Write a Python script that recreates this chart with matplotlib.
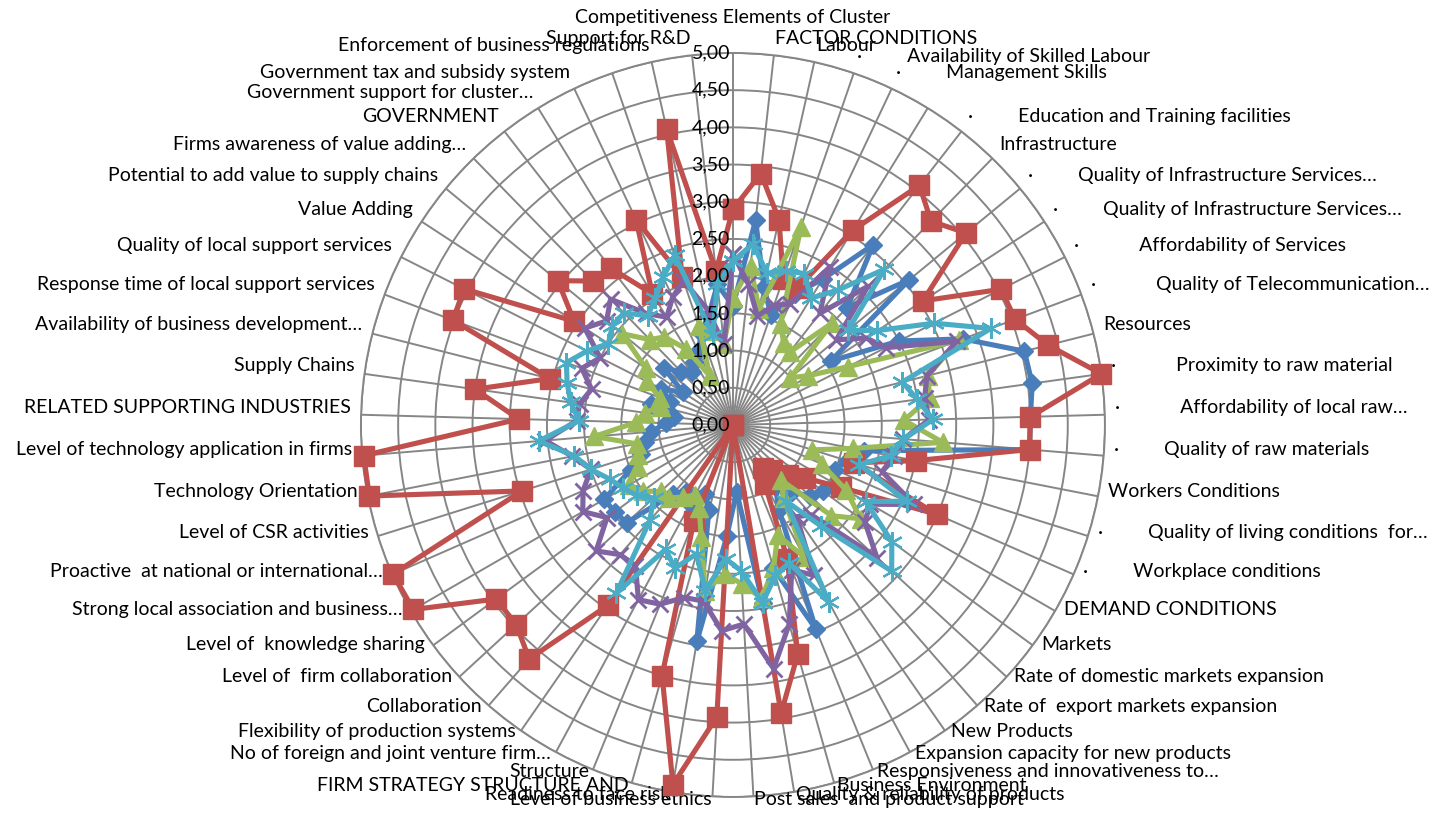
import matplotlib
matplotlib.use("Agg")
import numpy as np
import matplotlib.pyplot as plt
from matplotlib.transforms import offset_copy

plt.rcParams['font.family'] = ['Lato', 'DejaVu Sans']

D = "·" + " " * 9
D2 = "·" + " " * 12
categories = [
    "Competitiveness Elements of Cluster", "FACTOR CONDITIONS", "Labour",
    D + "Availability of Skilled Labour", D + "Management Skills", "",
    D + "Education and Training facilities", "Infrastructure",
    D + "Quality of Infrastructure Services…", D + "Quality of Infrastructure Services…",
    D2 + "Affordability of Services", D2 + "Quality of Telecommunication…", "Resources",
    D2 + "Proximity to raw material", D2 + "Affordability of local raw…",
    D + "Quality of raw materials", "Workers Conditions",
    D + "Quality of living conditions  for…", D + "Workplace conditions",
    "DEMAND CONDITIONS", "Markets", "Rate of domestic markets expansion",
    "Rate of  export markets expansion", "New Products",
    "Expansion capacity for new products", "Responsiveness and innovativeness to…",
    "Business Environment", "Quality & reliability of products",
    "Post sales  and product support", "Level of business ethics",
    "Readiness to face risk", "FIRM STRATEGY STRUCTURE AND", "Structure",
    "No of foreign and joint venture firm…", "Flexibility of production systems",
    "Collaboration", "Level of  firm collaboration", "Level of  knowledge sharing",
    "Strong local association and business…", "Proactive  at national or international…",
    "Level of CSR activities", "Technology Orientation",
    "Level of technology application in firms", "RELATED SUPPORTING INDUSTRIES",
    "Supply Chains", "Availability of business development…",
    "Response time of local support services", "Quality of local support services",
    "Value Adding", "Potential to add value to supply chains",
    "Firms awareness of value adding…", "GOVERNMENT",
    "Government support for cluster…", "Government tax and subsidy system", "",
    "Enforcement of business regulations", "Support for R&D",
]

series_blue = [1.6, 2.77, 1.9, 1.57, 1.95, 2.3, 3.07, 2.2, 3.07, 1.57, 2.5, 3.3, 4.04, 4.06,
               4.0, 4.0, 1.8, 1.6, 1.5, 1.65, 1.5, 1.4, 1.2, 1.0, 1.3, 2.96, 2.0, 2.42, 0.9,
               1.5, 2.95, 1.19, 1.0, 1.2, 1.1, 1.23, 1.94, 1.97, 2.0, 1.5, 1.3, 1.2, 1.1, 0.9,
               0.8, 1.14, 0.9, 1.08, 0.8, 1.2, 1.0, 0.9, 1.0, 1.1, 1.3, 1.5, 1.9]
series_red = [2.9, 3.4, 2.83, 2.08, 2.04, 3.07, 4.08, 3.82, 4.06, 3.05, 4.04, 4.05, 4.37, 5.0,
              4.0, 4.0, 2.5, 1.7, 2.99, 1.68, 1.2, 1.0, 0.8, 0.7, 0.9, 1.94, 3.2, 3.93, 0.0,
              3.93, 4.9, 3.5, 1.4, 0.0, 2.95, 4.17, 3.96, 3.95, 4.96, 4.99, 2.97, 4.98, 4.98,
              2.88, 3.5, 2.54, 4.02, 4.05, 2.55, 3.05, 2.7, 2.67, 2.07, 3.05, 2.1, 4.08, 2.08]
series_green = [1.71, 2.15, 1.6, 2.82, 1.5, 1.3, 1.24, 1.91, 1.0, 1.21, 1.74, 3.24, 2.7, 2.67,
                2.3, 2.83, 1.64, 1.12, 1.3, 1.76, 2.13, 1.8, 0.98, 1.2, 2.02, 1.6, 2.0, 2.36,
                2.14, 2.0, 2.26, 1.57, 1.2, 1.07, 1.18, 1.3, 1.32, 1.5, 1.61, 1.4, 1.34, 1.32,
                1.87, 1.3, 1.2, 1.0, 1.05, 1.3, 1.4, 1.93, 1.6, 1.5, 1.2, 0.73, 1.41, 1.3, 1.1]
series_purple = [2.3, 1.9, 1.5, 1.7, 1.8, 2.5, 1.9, 2.6, 1.8, 2.14, 2.3, 3.21, 2.69, 2.6, 2.64,
                 2.3, 2.2, 2.1, 2.66, 2.13, 2.2, 2.63, 1.6, 1.5, 2.3, 2.1, 2.78, 3.32, 2.68,
                 2.77, 2.4, 2.41, 2.6, 2.67, 2.3, 2.31, 2.5, 2.1, 2.33, 2.2, 2.0, 2.2, 2.53, 2.1,
                 2.08, 1.96, 2.17, 2.0, 2.38, 2.2, 2.36, 1.9, 1.7, 1.9, 2.05, 1.6, 1.09]
series_cyan = [2.2, 2.45, 2.09, 2.19, 2.25, 2.0, 2.3, 2.92, 2.0, 2.32, 3.03, 3.7, 2.35, 2.5,
               2.69, 2.3, 2.16, 1.78, 2.55, 2.06, 2.65, 2.9, 1.8, 1.24, 2.71, 2.0, 2.1, 2.42,
               1.96, 1.8, 2.26, 1.8, 2.08, 1.9, 2.75, 1.7, 1.45, 1.6, 1.7, 1.81, 2.0, 2.17, 2.62,
               2.07, 2.2, 2.3, 2.39, 2.2, 2.0, 2.1, 2.1, 1.86, 2.0, 2.2, 2.41, 1.24, 1.9]

r_ticks = [0.0, 0.5, 1.0, 1.5, 2.0, 2.5, 3.0, 3.5, 4.0, 4.5, 5.0]
r_tick_labels = ["0,00", "0,50", "1,00", "1,50", "2,00", "2,50", "3,00", "3,50", "4,00",
                 "4,50", "5,00"]

N = len(categories)
theta = np.arange(N) * 2 * np.pi / N

fig = plt.figure(figsize=(14.38, 8.15), dpi=100)
ax = fig.add_axes([0.2510, 0.0221, 0.5174, 0.9129], projection='polar')
ax.set_theta_zero_location('N')
ax.set_theta_direction(-1)
ax.set_ylim(0, 5)
ax.set_yticks(r_ticks)
ax.set_yticklabels([])
ax.set_xticks(theta)
ax.set_xticklabels([])
ax.grid(True, color='#868686', lw=1.4)
ax.spines['polar'].set_color('#868686')
ax.spines['polar'].set_linewidth(1.4)
ax.set_facecolor('white')

styles = [
    (series_blue, '#4A7EBB', dict(marker='D', ms=9)),
    (series_red, '#C0504D', dict(marker='s', ms=14)),
    (series_green, '#9BBB59', dict(marker='^', ms=13)),
    (series_purple, '#8064A2', dict(marker='x', ms=11, mew=2)),
    (series_cyan, '#4BACC6', dict(marker=(6, 2, 0), ms=15, mew=1.6)),
]
th_c = np.append(theta, theta[0])
for z, (vals, col, mk) in enumerate(styles):
    v = np.array(vals + [vals[0]])
    ax.plot(th_c, v, color=col, lw=3.7, mfc=col, mec=col, zorder=3 + z,
            clip_on=False, **mk)

fs = 14
tr = offset_copy(ax.transData, fig=fig, x=-3, y=0, units='dots')
for r, lab in zip(r_ticks, r_tick_labels):
    ax.text(0, r, lab, transform=tr, ha='right', va='center', fontsize=fs,
            color='#000000', zorder=10)

tr_lab = offset_copy(ax.transData, fig=fig, x=0, y=7, units='dots')
tr_top = offset_copy(ax.transData, fig=fig, x=0, y=25, units='dots')
for i, lab in enumerate(categories):
    t = theta[i]
    s = np.sin(t)
    if s > 0.02:
        ha = 'left'
    elif s < -0.02:
        ha = 'right'
    else:
        ha = 'center'
    ax.text(t, 5.0 * 1.027, lab, transform=(tr_top if i == 0 else tr_lab),
            ha=ha, va='center', fontsize=fs, color='#000000', clip_on=False)

fig.savefig('out.png', dpi=100)
